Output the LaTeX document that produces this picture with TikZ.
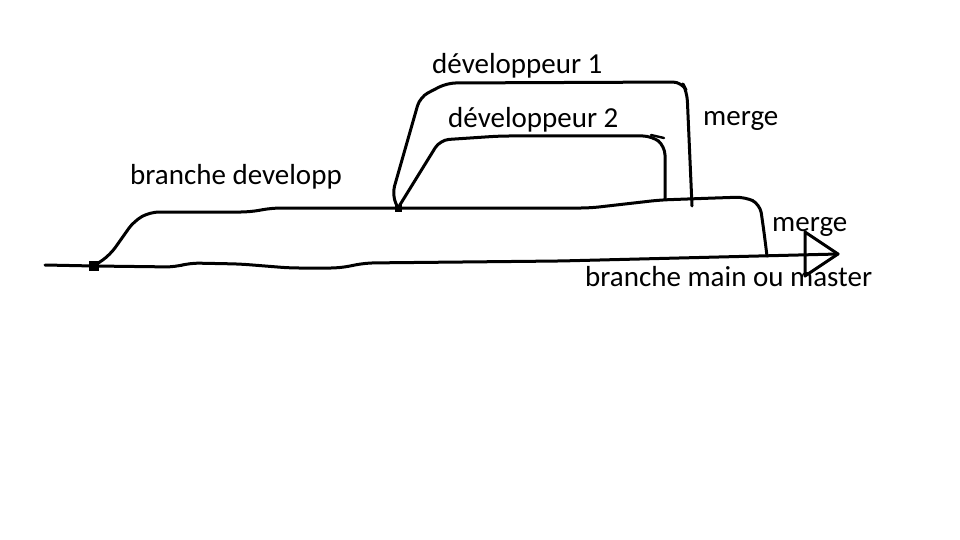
\documentclass[tikz,border=0pt]{standalone}
\usepackage{fontspec}
\setmainfont{Carlito}
\begin{document}
\begin{tikzpicture}[x=1pt,y=-1pt,
  stroke/.style={line width=3pt,line join=round,line cap=round,rounded corners=9pt},
  lbl/.style={font=\fontsize{29}{33}\selectfont,inner sep=0pt,anchor=base west},
  dot/.style={fill=black,minimum size=10pt,inner sep=0pt,rectangle}]
\useasboundingbox[fill=white] (0,0) rectangle (960,540);
% key points
\coordinate (start) at (45,265);
\node[dot] (fork) at (94,266) {};
\node[dot,minimum size=7pt] (split) at (398,208) {};
\coordinate (d2end) at (665,199);
\coordinate (d1end) at (692,206);
\coordinate (mrg) at (767,256);
\coordinate (tip) at (838,254);
% main branch
\draw[stroke] (start) -- (fork.center) -- (175,267) -- (190,263) -- (240,264) -- (290,268) -- (340,268) -- (365,263) -- (560,261) -- (tip);
% arrow head
\draw[line width=3pt,line join=round] (805,232) -- (tip) -- (805,276) -- cycle;
% develop branch
\draw[stroke] (fork.center) -- (110,255) -- (122,238) -- (134,221) -- (150,212) -- (250,212) -- (272,208) -- (split.center) -- (590,208) -- (660,200) -- (715,198) -- (745,197) -- (760,204) -- (764,232) -- (mrg);
% developer 1
\draw[stroke] (split.center) -- (392,195) -- (420,97) -- (447,83) -- (682,82) -- (687,92) -- (d1end);
% developer 2
\draw[stroke] (split.center) -- (440,140) -- (500,136) -- (652,136) -- (665,146) -- (d2end);
\draw[line width=2.4pt,line cap=round] (651,135) -- (664,138);
% labels
\node[lbl] (l1) at (432,74) {développeur 1};
\node[lbl] (l2) at (448,128) {développeur 2};
\node[lbl] (lm1) at (703,126) {merge};
\node[lbl] (ldev) at (130,184) {branche developp};
\node[lbl] (lm2) at (772,231) {merge};
\node[lbl] (lmain) at (585,286) {branche main ou master};
\end{tikzpicture}
\end{document}
